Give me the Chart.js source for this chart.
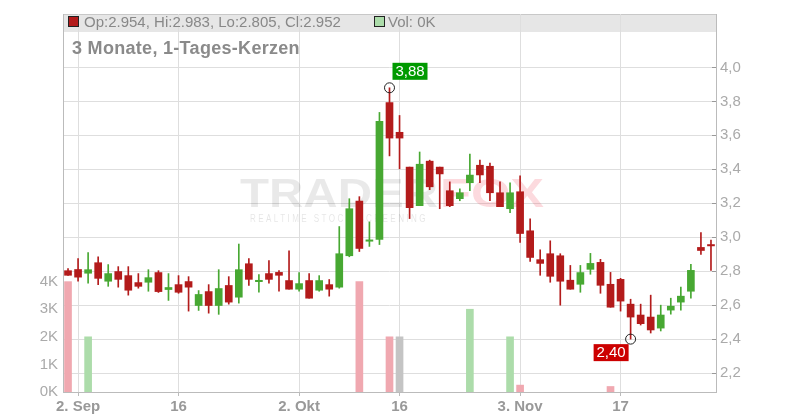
<!DOCTYPE html>
<html>
<head>
<meta charset="utf-8">
<script src="https://cdn.jsdelivr.net/npm/chart.js@4.4.1/dist/chart.umd.min.js"></script>
<style>
  html, body { margin: 0; padding: 0; background: #fff; }
</style>
</head>
<body>
<canvas id="chart" width="800" height="420"></canvas>
<script>
// trading days, Sep 1 - Nov 28
const days = [
  '2025-09-01','2025-09-02','2025-09-03','2025-09-04','2025-09-05',
  '2025-09-08','2025-09-09','2025-09-10','2025-09-11','2025-09-12',
  '2025-09-15','2025-09-16','2025-09-17','2025-09-18','2025-09-19',
  '2025-09-22','2025-09-23','2025-09-24','2025-09-25','2025-09-26',
  '2025-09-29','2025-09-30','2025-10-01','2025-10-02','2025-10-03',
  '2025-10-06','2025-10-07','2025-10-08','2025-10-09','2025-10-10',
  '2025-10-13','2025-10-14','2025-10-15','2025-10-16','2025-10-17',
  '2025-10-20','2025-10-21','2025-10-22','2025-10-23','2025-10-24',
  '2025-10-27','2025-10-28','2025-10-29','2025-10-30','2025-10-31',
  '2025-11-03','2025-11-04','2025-11-05','2025-11-06','2025-11-07',
  '2025-11-10','2025-11-11','2025-11-12','2025-11-13','2025-11-14',
  '2025-11-17','2025-11-18','2025-11-19','2025-11-20','2025-11-21',
  '2025-11-24','2025-11-25','2025-11-26','2025-11-27','2025-11-28'
];

const opens = [
  2.803, 2.810, 2.788, 2.850, 2.741, 2.798, 2.774, 2.733, 2.735, 2.792,
  2.692, 2.721, 2.739, 2.598, 2.680, 2.598, 2.716, 2.647, 2.844, 2.740,
  2.786, 2.793, 2.745, 2.694, 2.745, 2.688, 2.721, 2.706, 2.891, 3.213,
  2.978, 2.987, 3.793, 3.618, 3.413, 3.186, 3.448, 3.413, 3.274, 3.227,
  3.321, 3.424, 3.418, 3.262, 3.168, 3.268, 3.038, 2.868, 2.903, 2.891,
  2.747, 2.723, 2.811, 2.852, 2.723, 2.752, 2.606, 2.542, 2.530, 2.465,
  2.571, 2.618, 2.682, 2.940, 2.954
];
const highs = [
  2.815, 2.874, 2.909, 2.885, 2.839, 2.827, 2.827, 2.786, 2.809, 2.803,
  2.786, 2.774, 2.768, 2.686, 2.721, 2.809, 2.768, 2.960, 2.874, 2.780,
  2.862, 2.803, 2.920, 2.792, 2.786, 2.774, 2.751, 3.063, 3.227, 3.239,
  3.090, 3.735, 3.880, 3.717, 3.413, 3.502, 3.454, 3.413, 3.326, 3.285,
  3.490, 3.454, 3.436, 3.326, 3.321, 3.362, 3.108, 2.926, 2.979, 2.903,
  2.834, 2.834, 2.905, 2.870, 2.793, 2.758, 2.635, 2.606, 2.659, 2.600,
  2.641, 2.706, 2.840, 3.028, 2.983
];
const lows = [
  2.775, 2.741, 2.729, 2.720, 2.711, 2.706, 2.659, 2.700, 2.682, 2.675,
  2.628, 2.670, 2.565, 2.569, 2.553, 2.546, 2.606, 2.612, 2.717, 2.676,
  2.729, 2.682, 2.694, 2.682, 2.641, 2.682, 2.653, 2.700, 2.885, 2.916,
  2.946, 2.957, 3.479, 3.403, 3.110, 3.186, 3.280, 3.168, 3.180, 3.215,
  3.274, 3.321, 3.215, 3.180, 3.145, 2.969, 2.858, 2.776, 2.735, 2.600,
  2.694, 2.676, 2.782, 2.670, 2.588, 2.565, 2.400, 2.483, 2.436, 2.448,
  2.547, 2.571, 2.641, 2.899, 2.805
];
const closes = [
  2.776, 2.765, 2.809, 2.758, 2.786, 2.752, 2.688, 2.711, 2.762, 2.680,
  2.704, 2.676, 2.706, 2.663, 2.598, 2.698, 2.618, 2.809, 2.752, 2.745,
  2.752, 2.776, 2.694, 2.727, 2.641, 2.745, 2.694, 2.903, 3.168, 2.934,
  2.983, 3.682, 3.584, 3.584, 3.174, 3.430, 3.297, 3.373, 3.186, 3.262,
  3.366, 3.367, 3.262, 3.180, 3.262, 3.022, 2.881, 2.846, 2.770, 2.741,
  2.694, 2.792, 2.846, 2.717, 2.588, 2.624, 2.530, 2.491, 2.454, 2.542,
  2.594, 2.653, 2.805, 2.922, 2.952
];
const volumes = [
  4000, 0, 2000, 0, 0, 0, 0, 0, 0, 0,
  0, 0, 0, 0, 0, 0, 0, 0, 0, 0,
  0, 0, 0, 0, 0, 0, 0, 0, 0, 4000,
  0, 0, 2000, 2000, 0, 0, 0, 0, 0, 0,
  3000, 0, 0, 0, 2000, 250, 0, 0, 0, 0,
  0, 0, 0, 0, 200, 0, 0, 0, 0, 0,
  0, 0, 0, 0, 0
];

const tickDays = ['2025-09-02', '2025-09-16', '2025-10-02', '2025-10-16', '2025-11-03', '2025-11-17'];
const tickLabels = ['2. Sep', '16', '2. Okt', '16', '3. Nov', '17'];
const priceTicks = [2.2, 2.4, 2.6, 2.8, 3.0, 3.2, 3.4, 3.6, 3.8, 4.0];
const volTicks = [0, 1000, 2000, 3000, 4000];

const RED = '#b31b1b';
const GREEN = '#47a832';
const GRID = '#dedede';
const AXIS = '#bbbbbb';
const FONT = "'Liberation Sans', Arial, sans-serif";

const isUp = opens.map((o, i) => closes[i] >= o);
const candleColors = isUp.map(u => u ? GREEN : RED);
const volColors = isUp.map((u, i) => i === 33 ? '#c4c4c4' : (u ? '#acdcaa' : '#f0a8b0'));

// body as floating bar, doji get a thin line
const bodies = opens.map((o, i) => {
  let lo = Math.min(o, closes[i]), hi = Math.max(o, closes[i]);
  if (hi - lo < 0.008) { const m = (hi + lo) / 2; lo = m - 0.004; hi = m + 0.004; }
  return [lo, hi];
});
const wicks = lows.map((l, i) => [l, highs[i]]);

const hiIdx = highs.indexOf(Math.max(...highs));
const loIdx = lows.indexOf(Math.min(...lows));
const markers = days.map((d, i) => i === hiIdx ? highs[i] : (i === loIdx ? lows[i] : null));

const fmt = v => v.toFixed(2).replace('.', ',');
const last = days.length - 1;

function fitText(ctx, text, x, y, w) {
  const m = ctx.measureText(text).width;
  ctx.save();
  ctx.translate(x, y);
  ctx.scale(w / m, 1);
  ctx.fillText(text, 0, 0);
  ctx.restore();
}

const decor = {
  id: 'decor',
  beforeDraw(chart) {
    const { ctx, chartArea: a } = chart;
    ctx.save();
    ctx.fillStyle = '#fff';
    ctx.fillRect(0, 0, chart.width, chart.height);
    ctx.fillStyle = '#e6e6e6';
    ctx.fillRect(a.left, a.top, a.right - a.left, 18);
    ctx.strokeStyle = '#c8c8c8';
    ctx.lineWidth = 1;
    ctx.beginPath();
    ctx.moveTo(a.left, a.top + 0.5);
    ctx.lineTo(a.right, a.top + 0.5);
    ctx.stroke();
    ctx.restore();
  },
  beforeDatasetsDraw(chart) {
    const { ctx, chartArea: a } = chart;
    ctx.save();
    // watermark
    ctx.font = 'bold 41px ' + FONT;
    ctx.textBaseline = 'alphabetic';
    ctx.fillStyle = 'rgba(0,0,0,0.085)';
    fitText(ctx, 'TRADER', 240, 207, 198);
    ctx.fillStyle = 'rgba(240,70,90,0.2)';
    fitText(ctx, 'FOX', 440, 207, 104);
    ctx.font = '10px ' + FONT;
    ctx.fillStyle = 'rgba(0,0,0,0.1)';
    ctx.letterSpacing = '3px';
    fitText(ctx, 'REALTIME STOCK SCREENING', 250, 222, 178);
    ctx.letterSpacing = '0px';

    // legend line
    ctx.font = '15px ' + FONT;
    ctx.fillStyle = '#888';
    ctx.fillText('Op:' + opens[last].toFixed(3) + ', Hi:' + highs[last].toFixed(3) +
      ', Lo:' + lows[last].toFixed(3) + ', Cl:' + closes[last].toFixed(3), 84, 27);
    ctx.fillText('Vol: ' + Math.round(volumes[last] / 1000) + 'K', 388, 27);
    ctx.lineWidth = 1;
    ctx.strokeStyle = '#222';
    ctx.fillStyle = candleColors[last];
    ctx.fillRect(68.5, 16.5, 10, 10);
    ctx.strokeRect(68.5, 16.5, 10, 10);
    ctx.fillStyle = '#acdcaa';
    ctx.fillRect(374.5, 16.5, 10, 10);
    ctx.strokeRect(374.5, 16.5, 10, 10);

    // title
    ctx.font = 'bold 18px ' + FONT;
    ctx.letterSpacing = '0.3px';
    ctx.fillStyle = '#8a8a8a';
    ctx.fillText('3 Monate, 1-Tages-Kerzen', 72, 54);
    ctx.letterSpacing = '0px';

    // small ticks on price axis, inside
    const ps = chart.scales.price;
    ctx.strokeStyle = '#999';
    priceTicks.forEach(v => {
      const y = Math.round(ps.getPixelForValue(v)) + 0.5;
      ctx.beginPath();
      ctx.moveTo(a.right - 4, y);
      ctx.lineTo(a.right, y);
      ctx.stroke();
    });
    ctx.restore();
  },
  afterDatasetsDraw(chart) {
    const { ctx } = chart;
    const meta = chart.getDatasetMeta(0);
    ctx.save();
    ctx.font = '15px ' + FONT;
    ctx.textBaseline = 'middle';
    ctx.textAlign = 'center';
    const hp = meta.data[hiIdx];
    ctx.fillStyle = '#009a00';
    ctx.fillRect(hp.x + 3, hp.y - 25, 35, 17);
    ctx.fillStyle = '#fff';
    ctx.fillText(fmt(highs[hiIdx]), hp.x + 20.5, hp.y - 16);
    const lp = meta.data[loIdx];
    ctx.fillStyle = '#cc0000';
    ctx.fillRect(lp.x - 37, lp.y + 5, 35, 17);
    ctx.fillStyle = '#fff';
    ctx.fillText(fmt(lows[loIdx]), lp.x - 19.5, lp.y + 14);
    ctx.restore();
  }
};

Chart.defaults.font.family = FONT;

new Chart(document.getElementById('chart'), {
  type: 'bar',
  data: {
    labels: days,
    datasets: [
      {
        type: 'line',
        data: markers,
        yAxisID: 'price',
        showLine: false,
        pointRadius: 5,
        pointBorderWidth: 1,
        pointBorderColor: '#222',
        pointBackgroundColor: 'rgba(0,0,0,0)',
        order: 0
      },
      {
        data: bodies,
        yAxisID: 'price',
        backgroundColor: candleColors,
        barThickness: 7,
        grouped: false,
        order: 1
      },
      {
        data: wicks,
        yAxisID: 'price',
        backgroundColor: candleColors,
        barThickness: 1,
        grouped: false,
        order: 2
      },
      {
        data: volumes.map(v => v > 0 ? v : null),
        yAxisID: 'vol',
        backgroundColor: volColors,
        barThickness: 7,
        grouped: false,
        order: 3
      }
    ]
  },
  options: {
    responsive: false,
    animation: false,
    devicePixelRatio: 1,
    layout: { padding: { top: 12, left: 0, right: 0, bottom: 0 } },
    plugins: { legend: { display: false }, tooltip: { enabled: false } },
    scales: {
      x: {
        type: 'category',
        offset: true,
        grid: { offset: false, color: GRID, tickLength: 4, tickColor: AXIS },
        border: { color: AXIS },
        ticks: {
          autoSkip: false,
          maxRotation: 0,
          padding: 2,
          color: '#999',
          font: { size: 15, weight: 'bold' },
          callback: v => tickLabels[tickDays.indexOf(days[v])]
        },
        afterBuildTicks: s => { s.ticks = s.ticks.filter(t => tickDays.includes(days[t.value])); },
        afterFit: s => { s.height = 28; }
      },
      vol: {
        position: 'left',
        min: 0,
        max: 13700,
        grid: { display: false, drawTicks: false },
        border: { color: AXIS },
        ticks: {
          padding: 5,
          color: '#aaa',
          font: { size: 15 },
          callback: v => (v / 1000) + 'K'
        },
        afterBuildTicks: s => { s.ticks = volTicks.map(v => ({ value: v })); },
        afterFit: s => { s.width = 63; }
      },
      price: {
        position: 'right',
        min: 2.0887,
        max: 4.3146,
        grid: { color: GRID, drawTicks: false },
        border: { color: AXIS },
        ticks: {
          padding: 4,
          color: '#aaa',
          font: { size: 15 },
          callback: v => v.toFixed(1).replace('.', ',')
        },
        afterBuildTicks: s => { s.ticks = priceTicks.map(v => ({ value: v })); },
        afterFit: s => { s.width = 84; }
      }
    }
  },
  plugins: [decor]
});
</script>
</body>
</html>
